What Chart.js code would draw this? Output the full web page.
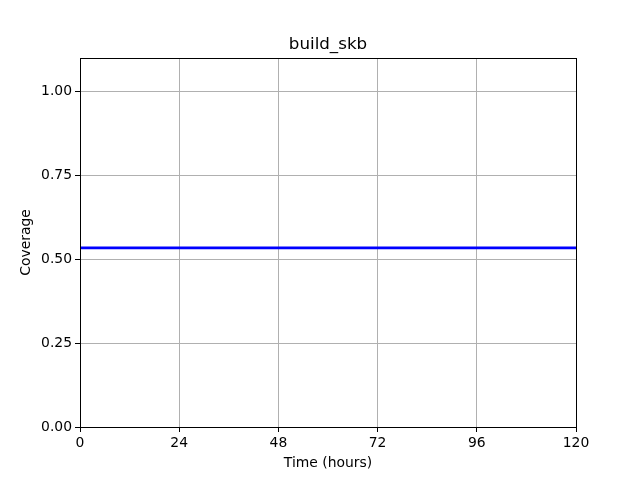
<!DOCTYPE html>
<html>
<head>
<meta charset="utf-8">
<script src="https://cdn.jsdelivr.net/npm/chart.js@4/dist/chart.umd.min.js"></script>
<style>
	body { margin: 0; background: #fff; }
	canvas { display: block; }
</style>
</head>
<body>
<canvas id="coverageChart" width="640" height="480"></canvas>
<script>
// values
const hours = [0, 120];
const coverage = [0.534, 0.534];
const xTicks = [0, 24, 48, 72, 96, 120];
const yTicks = [0, 0.25, 0.5, 0.75, 1.0];
const chartTitle = 'build_skb';

const FONT = 'DejaVu Sans';

// matplotlib style box round the plot area, title centred over it
const frameBox = {
	id: 'frameBox',
	afterDatasetsDraw(chart) {
		const { ctx, chartArea } = chart;
		ctx.save();
		ctx.strokeStyle = '#000';
		ctx.lineWidth = 1;
		ctx.strokeRect(chartArea.left + 0.5, chartArea.top + 0.5, chartArea.width, chartArea.height);
		ctx.fillStyle = '#000';
		ctx.font = '16.7px "' + FONT + '"';
		ctx.textAlign = 'center';
		ctx.textBaseline = 'alphabetic';
		ctx.fillText(chartTitle, (chartArea.left + chartArea.right) / 2, chartArea.top - 9);
		ctx.restore();
	}
};

const LoadCoverage = () => {
	let ctx = document.getElementById('coverageChart').getContext('2d');

	let myChart = new Chart(ctx, {
		type: 'line',
		data: {
			datasets: [{
				label: chartTitle,
				data: hours.map((h, i) => ({ x: h, y: coverage[i] })),
				borderColor: '#0000ff',
				borderWidth: 2.7,
				pointRadius: 0,
				fill: false,
				tension: 0
			}]
		},
		options: {
			responsive: false,
			animation: false,
			layout: { padding: { left: 0, right: 64, top: 58, bottom: 0 } },
			scales: {
				x: {
					type: 'linear',
					min: 0,
					max: 120,
					afterBuildTicks: (scale) => { scale.ticks = xTicks.map((v) => ({ value: v })); },
					afterFit: (scale) => { scale.height = 53; },
					grid: { color: '#b0b0b0', lineWidth: 1, tickColor: '#000', tickLength: 5 },
					border: { color: '#000' },
					ticks: { color: '#000', font: { family: FONT, size: 13.9 }, padding: 3, maxRotation: 0 },
					title: { display: true, text: 'Time (hours)', color: '#000', font: { family: FONT, size: 13.9 }, padding: { top: 0, bottom: 8 } }
				},
				y: {
					min: 0,
					max: 1.1,
					afterBuildTicks: (scale) => { scale.ticks = yTicks.map((v) => ({ value: v })); },
					afterFit: (scale) => { scale.width = 80; },
					grid: { color: '#b0b0b0', lineWidth: 1, tickColor: '#000', tickLength: 5 },
					border: { color: '#000' },
					ticks: { color: '#000', font: { family: FONT, size: 13.9 }, padding: 3, callback: (v) => v.toFixed(2) },
					title: { display: true, text: 'Coverage', color: '#000', font: { family: FONT, size: 13.9 }, padding: { top: 18, bottom: 0 } }
				}
			},
			plugins: {
				legend: { display: false },
				tooltip: { enabled: false },
				title: { display: false }
			}
		},
		plugins: [frameBox]
	});
};

LoadCoverage();
</script>
</body>
</html>
